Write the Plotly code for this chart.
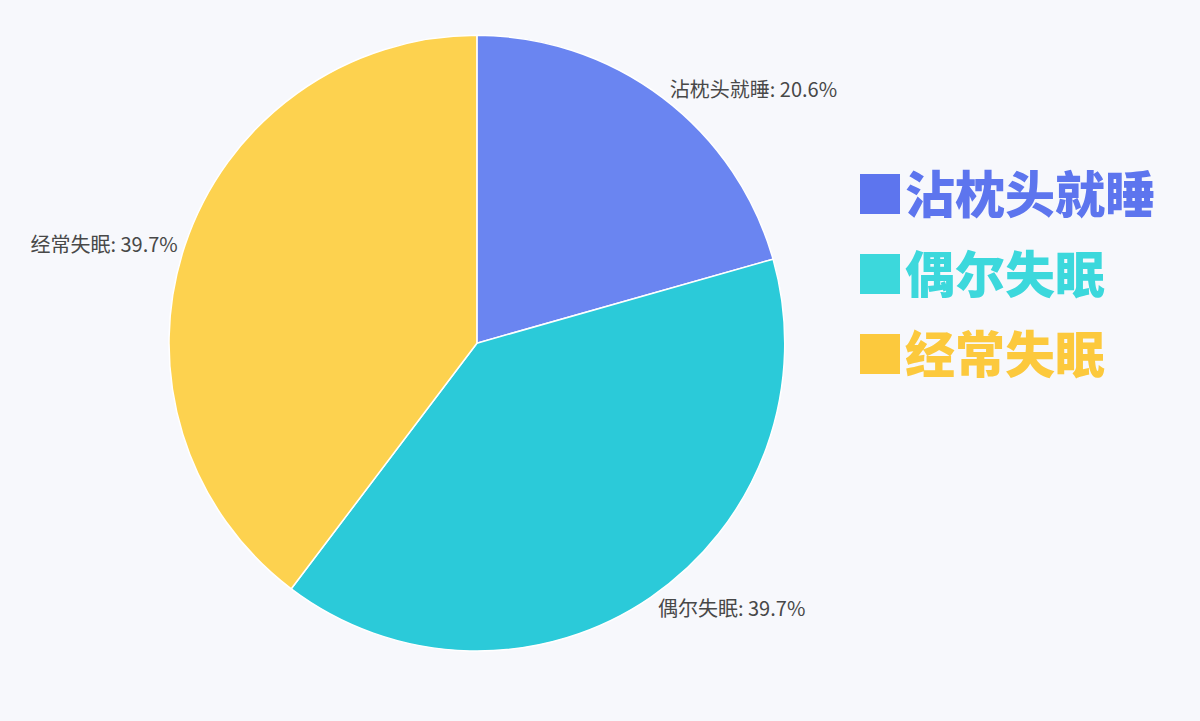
import plotly.graph_objects as go

labels = ["沾枕头就睡", "偶尔失眠", "经常失眠"]
values = [20.6, 39.7, 39.7]
slice_colors = ["#6a85f1", "#2bcad9", "#fdd24f"]
legend_colors = ["#5d75ee", "#3cd8dc", "#fcc93d"]

fig = go.Figure()

fig.add_trace(go.Pie(
    labels=labels,
    values=values,
    sort=False,
    direction="clockwise",
    rotation=0,
    marker=dict(colors=slice_colors, line=dict(color="white", width=1.5)),
    textposition="outside",
    texttemplate="%{label}: %{percent:.1%}",
    textfont=dict(family="Noto Sans CJK SC", size=20, color="#484848"),
    showlegend=False,
    domain=dict(x=[0.1408, 0.654], y=[0.097, 0.951]),
))

# legend drawn as coloured text rows
for i, (name, col) in enumerate(zip(labels, legend_colors)):
    fig.add_annotation(
        text="■" + name,
        x=0.711, y=0.735 - i * 0.111,
        xref="paper", yref="paper",
        xanchor="left", yanchor="middle",
        showarrow=False,
        font=dict(family="Noto Sans CJK SC", size=50, color=col, weight=900),
    )

fig.update_layout(
    width=1200,
    height=721,
    paper_bgcolor="#f7f8fc",
    plot_bgcolor="#f7f8fc",
    margin=dict(l=0, r=0, t=0, b=0),
)

fig.write_html(
    "out.html",
    config={"displayModeBar": False},
    post_script="document.body.style.margin='0';document.body.style.background='#f7f8fc';",
)
